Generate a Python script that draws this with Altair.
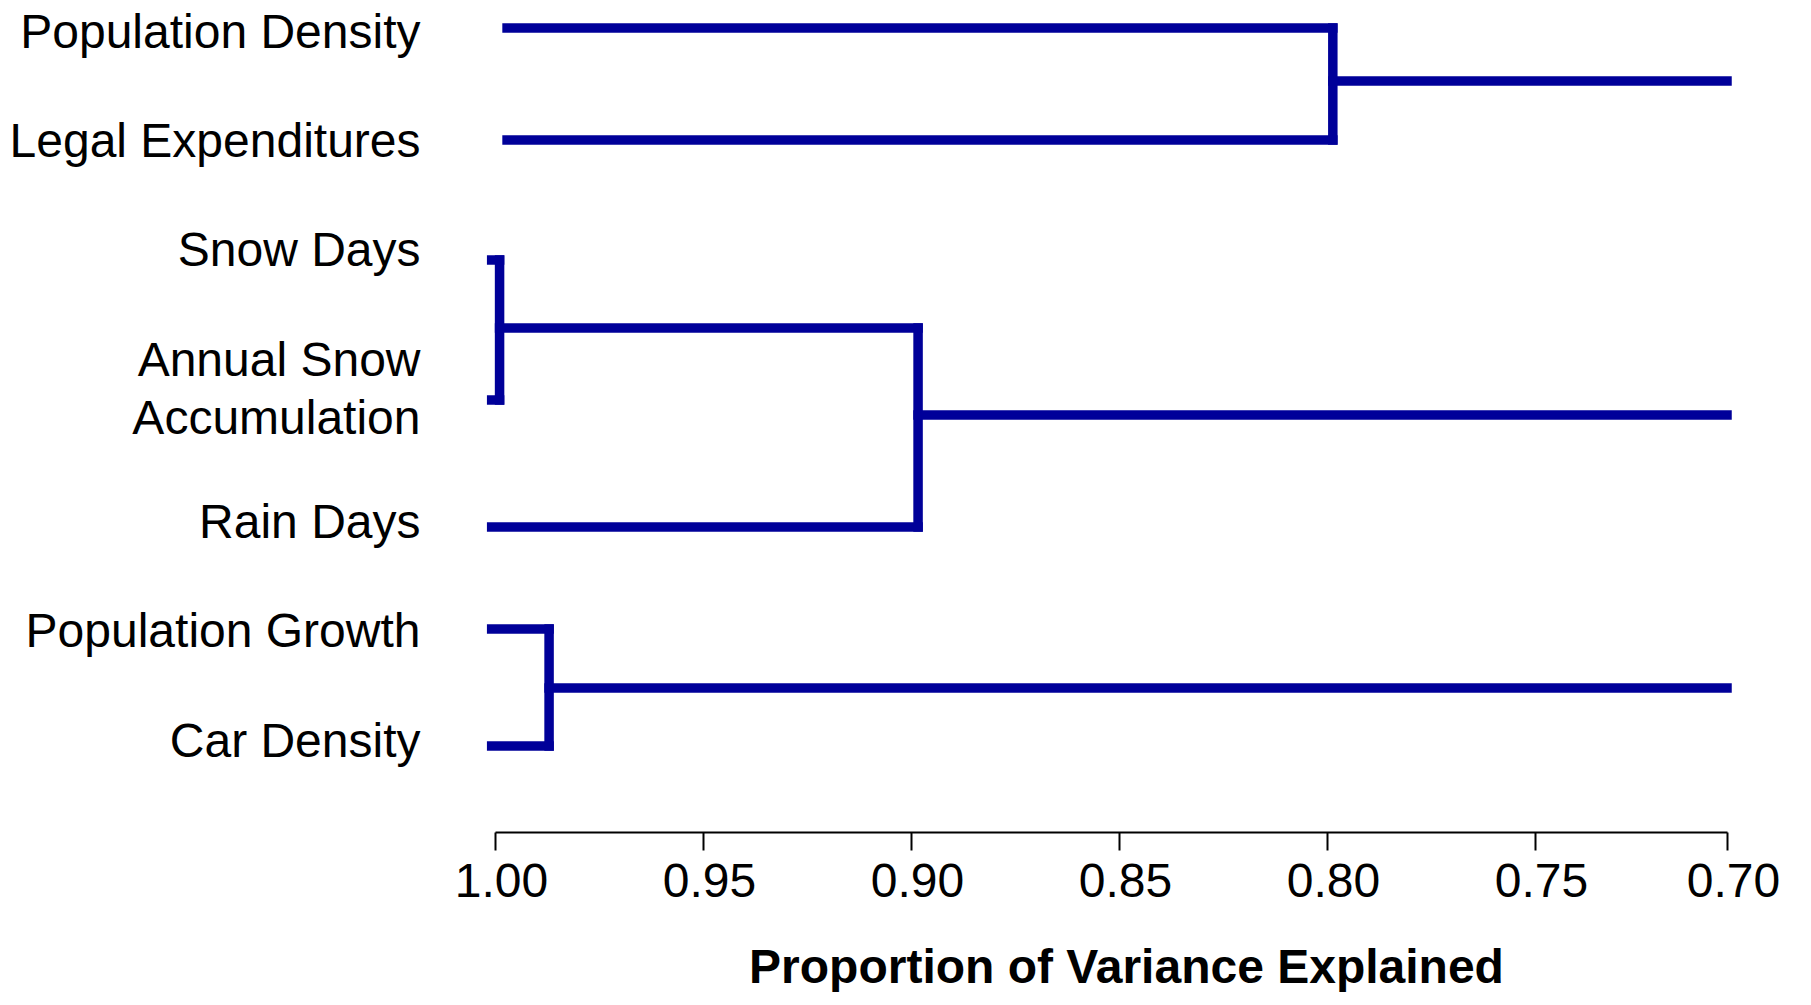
import altair as alt
import pandas as pd

# ---- data ----
leaf_names = ["Population Density", "Legal Expenditures", "Snow Days",
              "Annual Snow\nAccumulation", "Rain Days", "Population Growth", "Car Density"]
leaf_y = [8.04, 6.92, 5.72, 4.32, 3.05, 2.03, 0.86]          # leaf row positions
leaf_start = [0.9971, 0.9971, 1.0008, 1.0008, 1.0008, 1.0008, 1.0008]
label_y = [7.99, 6.90, 5.81, 4.71, 3.09, 2.00, 0.90]          # where the names sit

cluster_ids = ["A", "B", "C", "D"]
cluster_children = [[0, 1], [2, 3], ["B", 4], [5, 6]]
cluster_x = [0.7986, 0.9989, 0.8983, 0.987]                   # merge level
cluster_out_y = [7.51, 5.04, 4.17, 1.44]
cluster_parent = [None, "C", None, None]
root_end = 0.70

tick_values = [1.00, 0.95, 0.90, 0.85, 0.80, 0.75, 0.70]

# ---- build segments of the dendrogram ----
rows = []
idx = {c: i for i, c in enumerate(cluster_ids)}
for i, cid in enumerate(cluster_ids):
    ys = []
    for ch in cluster_children[i]:
        if isinstance(ch, int):
            y = leaf_y[ch]
            rows.append({"x": leaf_start[ch], "x2": cluster_x[i], "y": y, "y2": y})
        else:
            j = idx[ch]
            y = cluster_out_y[j]
            rows.append({"x": cluster_x[j], "x2": cluster_x[i], "y": y, "y2": y})
        ys.append(y)
    rows.append({"x": cluster_x[i], "x2": cluster_x[i], "y": min(ys), "y2": max(ys)})
    if cluster_parent[i] is None:
        rows.append({"x": cluster_x[i], "x2": root_end,
                     "y": cluster_out_y[i], "y2": cluster_out_y[i]})
segs = pd.DataFrame(rows)


def js_label(name):
    parts = name.split("\n")
    if len(parts) == 1:
        return "'" + name + "'"
    return "[" + ",".join("'" + p + "'" for p in parts) + "]"


label_expr = ""
for v, n in zip(label_y, leaf_names):
    label_expr += f"abs(datum.value - {v}) < 0.001 ? {js_label(n)} : "
label_expr += "''"

FONT = "Liberation Sans"

x_enc = alt.X(
    "x:Q",
    # the reference axis is evenly spaced down to 0.75, with a shorter last step to 0.70
    scale=alt.Scale(domain=[1.00, 0.75, 0.70], range=[0, 1040, 1232],
                    nice=False, zero=False),
    axis=alt.Axis(
        values=tick_values, format=".2f", grid=False,
        domainColor="black", domainWidth=2, tickColor="black", tickWidth=2,
        tickSize=18, labelFontSize=48, labelFont=FONT, labelColor="black",
        labelPadding=8, labelFlush=False, labelOffset=6, labelOverlap=False,
        title="Proportion of Variance Explained", titleFontSize=48,
        titleFont=FONT, titleFontWeight="bold", titleColor="black",
        titleX=631, titleY=150, titleBaseline="alphabetic", titleAlign="center",
    ),
)
y_enc = alt.Y(
    "y:Q",
    scale=alt.Scale(domain=[0, 8.24], nice=False, zero=False),
    axis=alt.Axis(
        values=label_y, labelExpr=label_expr, domain=False, ticks=False,
        grid=False, title=None, labelFontSize=48, labelFont=FONT,
        labelColor="black", labelPadding=75, labelLineHeight=58,
        labelAlign="right", labelBaseline="middle", labelLimit=0,
        labelOverlap=False,
    ),
)

chart = (
    alt.Chart(segs)
    .mark_rule(color="#000099", strokeWidth=9.5, strokeCap="square")
    .encode(x=x_enc, x2="x2:Q", y=y_enc, y2="y2:Q")
    .properties(
        width=1232, height=824,
        autosize=alt.AutoSizeParams(type="none"),
        padding={"left": 487, "top": 0, "right": 70, "bottom": 160},
        background="white",
    )
    .configure_view(stroke=None)
)

chart.save("out.html", embed_options={"renderer": "svg", "actions": False})
